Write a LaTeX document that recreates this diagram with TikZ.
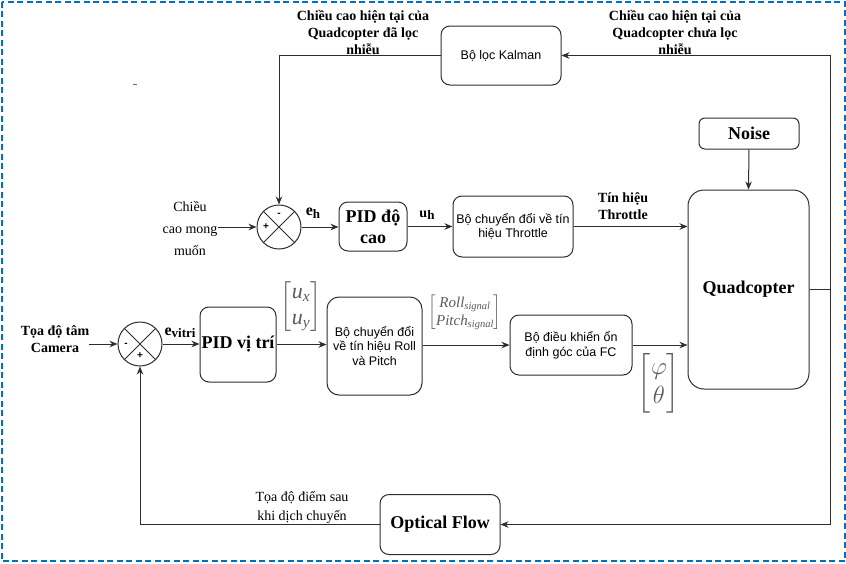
\documentclass[tikz,border=0pt]{standalone}
\usepackage{amsmath}
\usepackage{fontspec}
\setmainfont{Liberation Serif}
\newfontfamily\arialfont{Liberation Sans}
\usetikzlibrary{positioning,arrows.meta}
\definecolor{framecol}{RGB}{0,112,192}
\definecolor{linecol}{RGB}{45,45,45}
\definecolor{matcol}{RGB}{90,90,90}
\newcommand{\lowsub}[1]{\raisebox{-0.35ex}{\fontsize{13}{13}\selectfont #1}}

\tikzset{
block/.style={draw=linecol,line width=1pt,rounded corners=9pt,align=center,inner sep=1pt},
bigtxt/.style={font=\fontsize{18}{21}\selectfont\bfseries},
sanstxt/.style={font=\arialfont\fontsize{12.5}{14.5}\selectfont},
lbl/.style={font=\fontsize{14}{17}\selectfont\bfseries,align=center,inner sep=0pt},
sumjn/.style={draw=linecol,line width=1pt,circle,minimum size=44pt,inner sep=0pt},
sgn/.style={font=\arialfont\fontsize{10}{10}\selectfont\bfseries,inner sep=0pt},
matx/.style={text=matcol,inner sep=0pt},
wire/.style={draw=linecol,line width=1pt},
sig/.style={wire,-{Stealth[length=8pt,width=6.5pt]}}
}

\begin{document}
\begin{tikzpicture}[x=1pt,y=-1pt]
\useasboundingbox (0,0) rectangle (846,563);
\draw[framecol,line width=2pt,dash pattern=on 6pt off 3.5pt] (1.5,1.5) rectangle (844.5,561);
\draw[linecol!70,line width=0.8pt] (133,84.5) -- (137,84.5);

\node[block,sanstxt,minimum width=120pt,minimum height=59pt] (kalman) at (501,55.5) {Bộ lọc Kalman};
\node[block,bigtxt,minimum width=68pt,minimum height=49pt] (pidh) at (373,226.5) {PID độ\\cao};
\node[block,sanstxt,minimum width=120pt,minimum height=61pt] (thr) at (513,226.5) {Bộ chuyển đổi về tín\\hiệu Throttle};
\node[block,bigtxt,minimum width=100pt,minimum height=31pt,rounded corners=6pt] (noise) at (749,133.5) {Noise};
\node[block,bigtxt,minimum width=121pt,minimum height=199pt,rounded corners=16pt] (quad) at (748.5,289.5) {Quadcopter};
\node[block,bigtxt,minimum width=76pt,minimum height=75pt] (pidp) at (238,344.5) {PID vị trí};
\node[block,sanstxt,minimum width=95pt,minimum height=98pt,rounded corners=12pt] (rp) at (374.5,346) {Bộ chuyển đổi\\về tín hiệu Roll\\và Pitch};
\node[block,sanstxt,minimum width=122pt,minimum height=60pt] (fc) at (571,345) {Bộ điều khiển ổn\\định góc của FC};
\node[block,bigtxt,minimum width=120pt,minimum height=60pt] (of) at (440,524.5) {Optical Flow};

\node[sumjn] (s1) at (279,227) {};
\draw[wire] (s1.45) -- (s1.225) (s1.135) -- (s1.-45);
\node[sgn] at ([yshift=12pt]s1.center) {-};
\node[sgn] at ([xshift=-13pt]s1.center) {+};
\node[sumjn] (s2) at (140,344) {};
\draw[wire] (s2.45) -- (s2.225) (s2.135) -- (s2.-45);
\node[sgn] at ([xshift=-14pt,yshift=-1pt]s2.center) {-};
\node[sgn] at ([yshift=-12pt]s2.center) {+};

\node[lbl] (lblfilt) at (363,32) {Chiều cao hiện tại của\\Quadcopter đã lọc\\nhiễu};
\node[lbl] (lblraw) at (675,32) {Chiều cao hiện tại của\\Quadcopter chưa lọc\\nhiễu};
\node[lbl,font=\fontsize{14}{22}\selectfont] (lblref) at (190,228) {Chiều\\cao mong\\muốn};
\node[lbl] (lblthr) at (623,206) {Tín hiệu\\Throttle};
\node[lbl] (lblcam) at (55,339) {Tọa độ tâm\\Camera};
\node[lbl,font=\fontsize{14}{19}\selectfont] (lblof) at (302,507) {Tọa độ điểm sau\\khi dịch chuyển};
\node[lbl,font=\fontsize{16}{16}\selectfont\bfseries] (eh) at (313,213) {e\lowsub{h}};
\node[lbl,font=\fontsize{14}{14}\selectfont\bfseries] (uh) at (427,215) {u\lowsub{h}};
\node[lbl,font=\fontsize{16}{16}\selectfont\bfseries] (evt) at (180,333) {e\lowsub{vitri}};

\node[matx,font=\fontsize{22}{26}\selectfont] (umat) at (301,306.5) {$\begin{bmatrix}\textit{u}_{\textit{x}}\\ \textit{u}_{\textit{y}}\end{bmatrix}$};
\node[matx,font=\fontsize{15}{18}\selectfont] (rpmat) at (465,312.5) {$\begin{bmatrix}\textit{Roll}_{\textit{signal}}\\ \textit{Pitch}_{\textit{signal}}\end{bmatrix}$};
\node[matx,font=\fontsize{24}{29}\selectfont] (angmat) at (659,383) {$\begin{bmatrix}\varphi\\ \theta\end{bmatrix}$};

\coordinate (tapr) at (830,289.5);
\draw[wire] (quad.east) -- (tapr);
\draw[sig] (tapr) |- (kalman.east);
\draw[sig] (tapr) |- (of.east);
\draw[sig] (kalman.west) -| (s1.north);
\draw[sig] (of.west) -| (s2.south);
\draw[sig] (lblref.east |- s1.west) -- (s1.west);
\draw[sig] (s1.east) -- (pidh.west |- s1.east);
\draw[sig] (pidh.east) -- (thr.west);
\draw[sig] (thr.east) -- (quad.west |- thr.east);
\draw[sig] (noise.south) -- (quad.north);
\draw[sig] (lblcam.east |- s2.west) -- (s2.west);
\draw[sig] (s2.east) -- (pidp.west |- s2.east);
\draw[sig] (pidp.east) -- (rp.west |- pidp.east);
\draw[sig] (rp.east |- fc.west) -- (fc.west);
\draw[sig] (fc.east) -- (quad.west |- fc.east);
\end{tikzpicture}
\end{document}
